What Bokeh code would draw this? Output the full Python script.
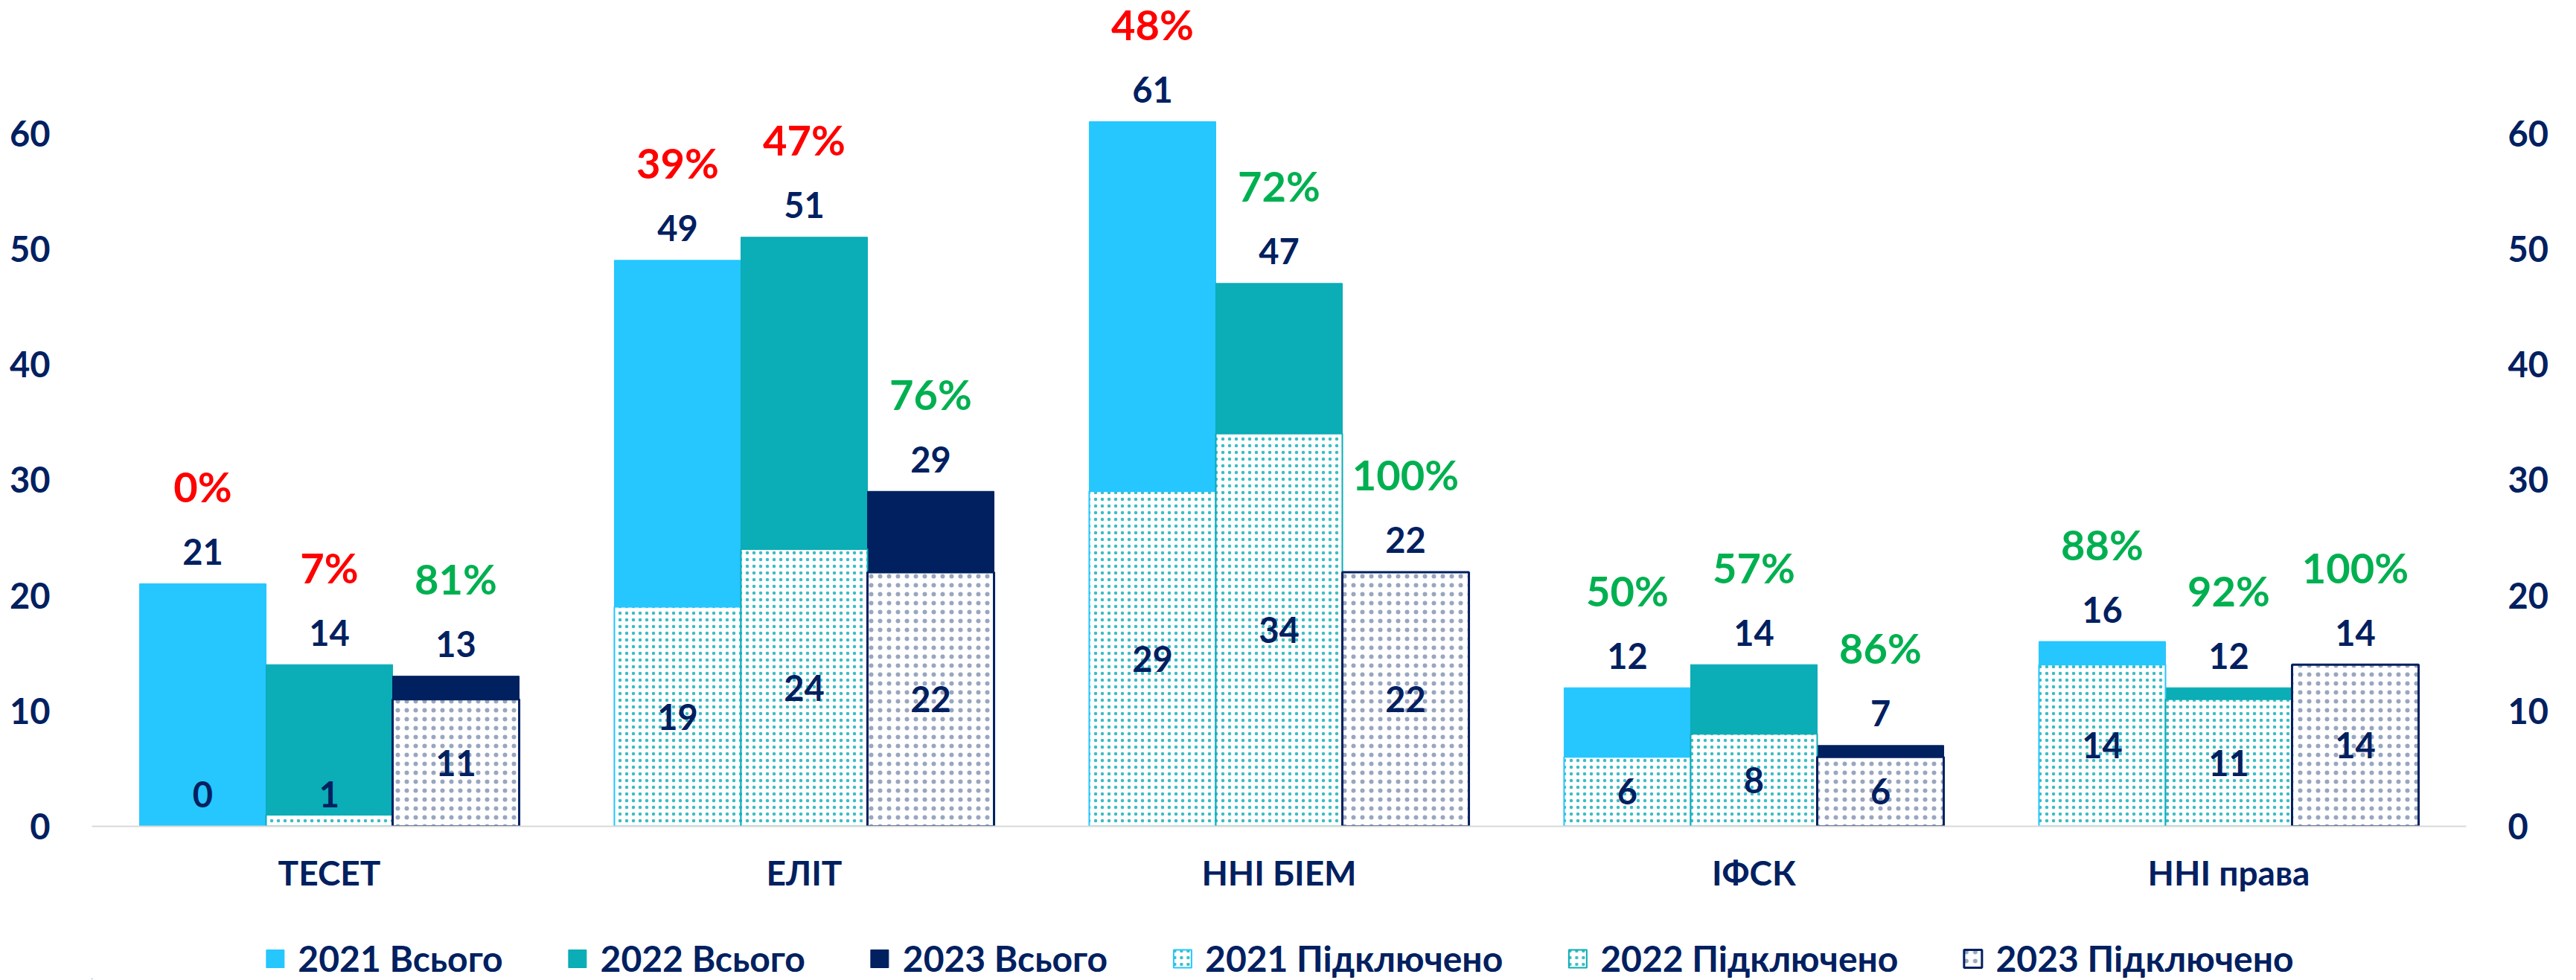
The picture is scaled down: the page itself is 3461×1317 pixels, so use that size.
from bokeh.plotting import figure
from bokeh.layouts import column
from bokeh.models import (ColumnDataSource, Range1d, FixedTicker, LinearAxis,
                          Legend, LegendItem)
from bokeh.core.properties import value
from bokeh.embed import file_html
from bokeh.resources import INLINE

# ---------------- data ----------------
categories = ["ТЕСЕТ", "ЕЛІТ", "ННІ БІЕМ", "ІФСК", "ННІ права"]
total_2021 = [21, 49, 61, 12, 16]
total_2022 = [14, 51, 47, 14, 12]
total_2023 = [13, 29, 22, 7, 14]
conn_2021 = [0, 19, 29, 6, 14]
conn_2022 = [1, 24, 34, 8, 11]
conn_2023 = [11, 22, 22, 6, 14]
pct_2021 = ["0%", "39%", "48%", "50%", "88%"]
pct_2022 = ["7%", "47%", "72%", "57%", "92%"]
pct_2023 = ["81%", "76%", "100%", "86%", "100%"]
y_ticks = [0, 10, 20, 30, 40, 50, 60]
years = ["2021", "2022", "2023"]

# ---------------- style ----------------
C_BLUE = "#26C6FF"
C_TEAL = "#0BADB6"
C_NAVY = "#002060"
C_RED = "#FF0000"
C_GREEN = "#00B050"
FONT = value("Lato")
BW = 0.2665

totals = [total_2021, total_2022, total_2023]
conns = [conn_2021, conn_2022, conn_2023]
pcts = [pct_2021, pct_2022, pct_2023]
tot_colors = [C_BLUE, C_TEAL, C_NAVY]
conn_line = [C_BLUE, C_TEAL, C_NAVY]
conn_hatch = [C_TEAL, C_TEAL, C_NAVY]
conn_scale = [9, 9, 12]
conn_weight = [0.5, 0.5, 0.3]
conn_halpha = [0.8, 0.8, 0.4]
conn_lw = [2, 2, 3]


def tot_style(i):
    return dict(fill_color=tot_colors[i], line_color=tot_colors[i], line_width=1)


def conn_style(i):
    return dict(fill_color="white", line_color=conn_line[i], line_width=conn_lw[i],
                hatch_pattern="dot", hatch_color=conn_hatch[i], hatch_alpha=conn_halpha[i],
                hatch_scale=conn_scale[i], hatch_weight=conn_weight[i])


p = figure(width=3440, height=1215, x_range=Range1d(-0.5, 4.5), y_range=Range1d(0, 71.5),
           output_backend="svg", toolbar_location=None,
           min_border_left=123, min_border_right=127, min_border_top=0, min_border_bottom=105)
p.outline_line_color = None
p.xgrid.visible = False
p.ygrid.visible = False
p.background_fill_color = "white"
p.border_fill_color = "white"

idx = list(range(len(categories)))


def make_source(i):
    off = (i - 1) * BW
    return ColumnDataSource(dict(
        x=[k + off for k in idx], total=totals[i], conn=conns[i],
        tlab=[str(v) for v in totals[i]],
        clab=[str(v) for v in conns[i]],
        cy=[max(v / 2.0, 2.77) for v in conns[i]],
        plab=pcts[i],
        pcol=[C_RED if float(s.rstrip("%")) < 50 else C_GREEN for s in pcts[i]],
    ))


sources = [make_source(i) for i in range(3)]
for i in range(3):
    p.vbar(x="x", top="total", bottom=0, width=BW, source=sources[i], **tot_style(i))
for i in range(3):
    p.vbar(x="x", top="conn", bottom=0, width=BW, source=sources[i], **conn_style(i))

for i in range(3):
    src = sources[i]
    p.text(x="x", y="total", text="tlab", source=src, text_align="center",
           text_baseline="middle", y_offset=-43, text_font=FONT, text_font_style="bold",
           text_font_size="47px", text_color=C_NAVY)
    p.text(x="x", y="cy", text="clab", source=src, text_align="center",
           text_baseline="middle", text_font=FONT, text_font_style="bold",
           text_font_size="47px", text_color=C_NAVY)
    p.text(x="x", y="total", text="plab", source=src, text_align="center",
           text_baseline="middle", y_offset=-131, text_font=FONT, text_font_style="bold",
           text_font_size="56px", text_color="pcol")

# ---------------- axes ----------------
xa = p.xaxis[0]
xa.ticker = FixedTicker(ticks=idx)
xa.major_label_overrides = {k: c for k, c in zip(idx, categories)}
xa.axis_line_color = "#D9D9D9"
xa.axis_line_width = 2
xa.major_tick_line_color = None
xa.minor_tick_line_color = None
xa.major_label_standoff = 28
xa.major_label_text_font = "Lato"
xa.major_label_text_font_style = "bold"
xa.major_label_text_font_size = "46px"
xa.major_label_text_color = C_NAVY


def style_y(ax):
    ax.ticker = FixedTicker(ticks=y_ticks)
    ax.axis_line_color = None
    ax.major_tick_line_color = None
    ax.minor_tick_line_color = None
    ax.major_label_standoff = 50
    ax.major_label_text_font = "Lato"
    ax.major_label_text_font_style = "bold"
    ax.major_label_text_font_size = "47px"
    ax.major_label_text_color = C_NAVY


style_y(p.yaxis[0])
ra = LinearAxis()
style_y(ra)
p.add_layout(ra, "right")

# ---------------- legend (separate strip below) ----------------
q = figure(width=3440, height=101, x_axis_type=None, y_axis_type=None,
           x_range=Range1d(0, 1), y_range=Range1d(0, 1),
           output_backend="svg", toolbar_location=None,
           min_border_left=123, min_border_right=127, min_border_top=0, min_border_bottom=0)
q.outline_line_color = None
q.grid.visible = False
q.background_fill_color = "white"
q.border_fill_color = "white"

# legend-only renderers: a point placed far outside the visible range of this strip
dummy = ColumnDataSource(dict(x=[-100], top=[-100]))
items = []
for i, yr in enumerate(years):
    r = q.vbar(x="x", top="top", bottom=-101, width=BW, source=dummy, **tot_style(i))
    items.append(LegendItem(label=f"{yr} Всього", renderers=[r]))
for i, yr in enumerate(years):
    r = q.vbar(x="x", top="top", bottom=-101, width=BW, source=dummy, **conn_style(i))
    items.append(LegendItem(label=f"{yr} Підключено", renderers=[r]))

legend = Legend(items=items, orientation="horizontal", location="bottom_center",
                padding=0, margin=0, spacing=85, label_standoff=16,
                glyph_width=30, glyph_height=30, label_height=40,
                label_text_font="Lato", label_text_font_style="bold",
                label_text_font_size="48px", label_text_color=C_NAVY,
                border_line_color=None, background_fill_alpha=0)
q.add_layout(legend)

layout = column(p, q, spacing=0)
open("out.html", "w").write(file_html(layout, INLINE))
